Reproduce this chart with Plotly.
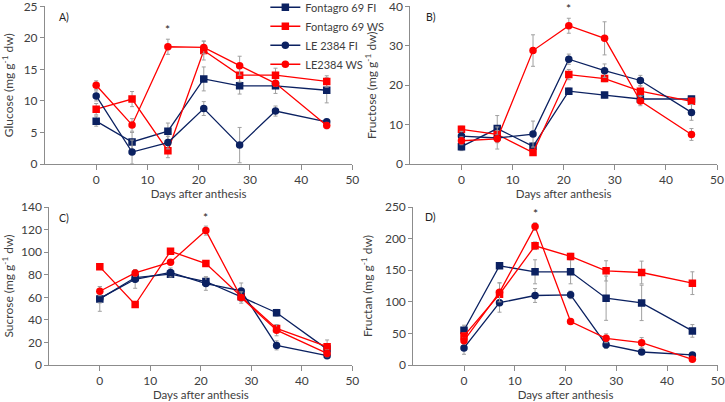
import plotly.graph_objects as go

days = [0, 7, 14, 21, 28, 35, 45]
series_names = ["Fontagro 69 FI", "Fontagro 69 WS", "LE 2384 FI", "LE2384 WS"]

# Glucose
glu_fFI = [6.8, 3.5, 5.2, 13.5, 12.4, 12.4, 11.7]
glu_fFI_err = [0.8, 1.5, 1.3, 1.9, 1.3, 1.2, 2.0]
glu_fWS = [8.7, 10.3, 2.1, 18.0, 14.1, 14.1, 13.1]
glu_fWS_err = [0.9, 1.2, 1.1, 1.5, 1.1, 1.1, 0.9]
glu_lFI = [10.8, 1.9, 3.4, 8.8, 3.0, 8.4, 6.7]
glu_lFI_err = [0.8, 1.9, 1.0, 1.1, 2.8, 0.8, 0.4]
glu_lWS = [12.5, 6.2, 18.6, 18.5, 15.6, 12.8, 6.1]
glu_lWS_err = [0.7, 1.0, 1.2, 1.0, 1.5, 0.5, 0.5]

# Fructose
fru_fFI = [4.4, 9.0, 4.5, 18.5, 17.5, 16.5, 16.5]
fru_fFI_err = [1.0, 3.3, 0.8, 0.8, 0.7, 0.8, 0.7]
fru_fWS = [8.8, 7.5, 2.9, 22.7, 21.7, 18.5, 15.9]
fru_fWS_err = [0.8, 1.0, 0.5, 1.3, 0.8, 1.3, 0.8]
fru_lFI = [7.1, 6.6, 7.6, 26.6, 23.7, 21.2, 13.1]
fru_lFI_err = [1.2, 2.8, 3.3, 1.3, 1.7, 1.3, 2.0]
fru_lWS = [5.9, 6.4, 28.8, 35.1, 31.9, 16.0, 7.5]
fru_lWS_err = [1.0, 1.0, 4.0, 1.9, 4.2, 1.2, 1.5]

# Sucrose
suc_fFI = [58.6, 77.5, 80.5, 74.0, 60.4, 46.3, 14.1]
suc_fFI_err = [11, 4, 3, 4, 4, 3, 4]
suc_fWS = [87, 53.6, 100.8, 89.9, 60.7, 32.4, 16.2]
suc_fWS_err = [2, 2, 2, 2, 3, 3, 6]
suc_lFI = [59, 76, 82, 72.2, 65.7, 17.4, 8.3]
suc_lFI_err = [4, 8, 4, 6, 7, 4, 2]
suc_lWS = [65.4, 81.6, 91.1, 119.1, 59.8, 30.9, 10.3]
suc_lWS_err = [4, 3, 2, 4, 5, 5, 3]

# Fructan
frn_fFI = [55, 157, 147.5, 147.5, 105.7, 98.3, 54]
frn_fFI_err = [8, 3, 19, 19, 35, 28, 10]
frn_fWS = [46, 112, 188.7, 171.8, 149, 146.4, 129.5]
frn_fWS_err = [5, 18, 6, 5, 16, 18, 18]
frn_lFI = [27, 98.6, 110, 111, 32.2, 20.6, 15.9]
frn_lFI_err = [10, 15, 11, 6, 6, 3, 3]
frn_lWS = [38.5, 115, 219, 68.7, 42.3, 35.4, 9]
frn_lWS_err = [5, 15, 6, 3, 7, 8, 2]

x_ticks = [0, 10, 20, 30, 40, 50]

panels = [
    dict(label="A)", ytitle="Glucose (mg g<sup>-1</sup> dw)", yrange=[0, 25], dtick=5,
         data=[(glu_fFI, glu_fFI_err), (glu_fWS, glu_fWS_err), (glu_lFI, glu_lFI_err), (glu_lWS, glu_lWS_err)],
         star=(14, 21.4), lab=(-7.6, 23.4),
         xdom=[0.062, 0.486], ydom=[0.592, 0.984]),
    dict(label="B)", ytitle="Fructose (mg g<sup>-1</sup> dw)", yrange=[0, 40], dtick=10,
         data=[(fru_fFI, fru_fFI_err), (fru_fWS, fru_fWS_err), (fru_lFI, fru_lFI_err), (fru_lWS, fru_lWS_err)],
         star=(21, 39.6), lab=(-7.4, 37.4),
         xdom=[0.566, 0.989], ydom=[0.592, 0.984]),
    dict(label="C)", ytitle="Sucrose (mg g<sup>-1</sup> dw)", yrange=[0, 140], dtick=20,
         data=[(suc_fFI, suc_fFI_err), (suc_fWS, suc_fWS_err), (suc_lFI, suc_lFI_err), (suc_lWS, suc_lWS_err)],
         star=(21, 130.5), lab=(-8.5, 130.5),
         xdom=[0.068, 0.486], ydom=[0.092, 0.485]),
    dict(label="D)", ytitle="Fructan (mg g<sup>-1</sup> dw)", yrange=[0, 250], dtick=50,
         data=[(frn_fFI, frn_fFI_err), (frn_fWS, frn_fWS_err), (frn_lFI, frn_lFI_err), (frn_lWS, frn_lWS_err)],
         star=(14, 240), lab=(-8, 235),
         xdom=[0.570, 0.990], ydom=[0.092, 0.485]),
]

NAVY = "#0B2161"
RED = "#FF0000"
styles = [(NAVY, "square"), (RED, "square"), (NAVY, "circle"), (RED, "circle")]
FONT = "Lato, Open Sans, sans-serif"
TXT = "#404040"
AX = "#8C8C8C"

fig = go.Figure()
annotations = []
layout = {}
for i, p in enumerate(panels):
    n = "" if i == 0 else str(i + 1)
    xa, ya = "x" + n, "y" + n
    for j, (vals, errs) in enumerate(p["data"]):
        col, sym = styles[j]
        fig.add_trace(go.Scatter(
            x=days, y=vals, xaxis=xa, yaxis=ya, mode="lines+markers",
            name=series_names[j], showlegend=(i == 0),
            line=dict(color=col, width=1.3),
            marker=dict(color=col, symbol=sym, size=7.5),
            error_y=dict(type="data", array=errs, visible=True, color="#A0A0A0",
                         thickness=1, width=2),
        ))
    layout["xaxis" + n] = dict(
        domain=p["xdom"], anchor=ya, range=[-10, 50], tickvals=x_ticks,
        showgrid=False, zeroline=False, showline=True, linecolor=AX, linewidth=1,
        ticks="outside", ticklen=5, tickcolor=AX, ticklabeloverflow="allow",
        tickfont=dict(family=FONT, size=12, color=TXT),
        title=dict(text="Days after anthesis", font=dict(family=FONT, size=11.5, color=TXT), standoff=2),
    )
    # overlay axis giving the upward half of the crossing tick marks
    layout["xaxis" + str(i + 5)] = dict(
        domain=p["xdom"], anchor=ya, overlaying=xa, range=[-10, 50], tickvals=x_ticks,
        showgrid=False, zeroline=False, showline=False, showticklabels=False,
        ticks="inside", ticklen=4, tickcolor=AX,
    )
    layout["yaxis" + n] = dict(
        domain=p["ydom"], anchor=xa, range=p["yrange"], dtick=p["dtick"],
        showgrid=False, zeroline=False, showline=True, linecolor=AX, linewidth=1,
        ticks="outside", ticklen=4, tickcolor=AX, ticklabeloverflow="allow",
        tickfont=dict(family=FONT, size=12, color=TXT),
        title=dict(text=p["ytitle"], font=dict(family=FONT, size=12, color=TXT), standoff=9),
    )
    annotations.append(dict(x=p["star"][0], y=p["star"][1], xref=xa, yref=ya, text="*",
                            showarrow=False, font=dict(family=FONT, size=12, color="#222222")))
    annotations.append(dict(x=p["lab"][0], y=p["lab"][1], xref=xa, yref=ya, text=p["label"],
                            showarrow=False, xanchor="left",
                            font=dict(family=FONT, size=10.5, color="#222222")))

fig.update_layout(
    width=725, height=402,
    margin=dict(l=0, r=0, t=0, b=0, autoexpand=False),
    paper_bgcolor="white", plot_bgcolor="white",
    annotations=annotations,
    legend=dict(x=0.366, y=1.018, xanchor="left", yanchor="top",
                font=dict(family=FONT, size=11, color=TXT),
                bgcolor="rgba(0,0,0,0)", tracegroupgap=0, itemwidth=30),
    **layout,
)

fig.write_html("out.html", config={"displayModeBar": False},
               post_script="document.body.style.margin='0';")
